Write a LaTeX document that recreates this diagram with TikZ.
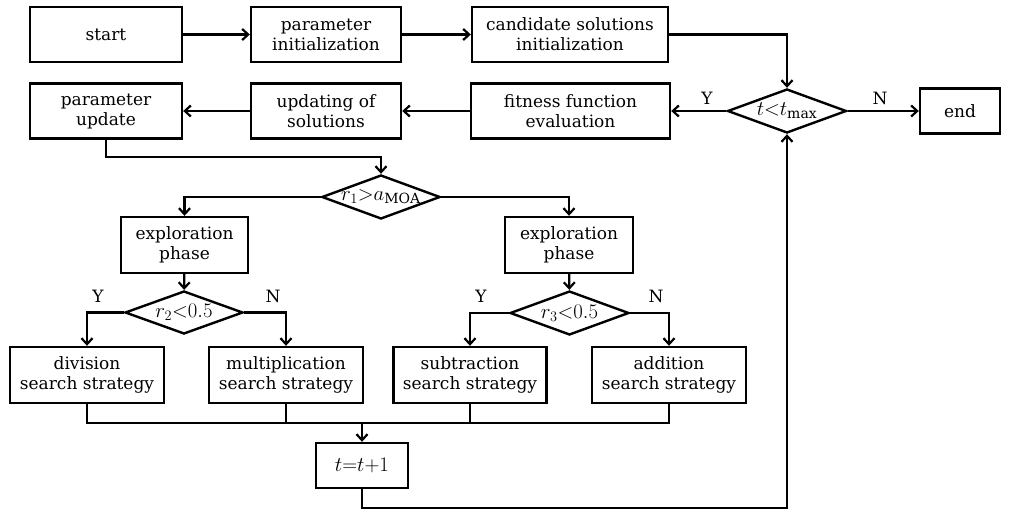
\documentclass[tikz,border=0pt]{standalone}
\usepackage{amsmath,amssymb}
\usepackage{fontspec}
\setmainfont{DejaVu Serif}
\usepackage{xcolor}
\usepackage{tikz}
\usetikzlibrary{shapes,arrows.meta,calc}
\tikzset{
  flowbox/.style={
    draw,
    line width=2.4pt,
    shape=rectangle,
    align=center,
    inner sep=0pt,
    minimum height=55pt
  },
  decide/.style={
    draw,
    line width=2.4pt,
    shape=diamond,
    aspect=2.7,
    inner sep=0pt,
    minimum width=119pt,
    minimum height=44pt,
    font=\fontsize{20}{20}\selectfont
  },
  flow/.style={
    line width=2.2pt,
    -{Straight Barb[length=6pt,width=11pt,line width=2.2pt]}
  },
  joint/.style={
    line width=2.2pt
  },
  every picture/.style = {
    font=\fontsize{17}{20}\selectfont
  }
}

\begin{document}
\begin{tikzpicture}[x=1pt,y=-1pt]
        \useasboundingbox (0,0) rectangle (1011,511);
        \node[flowbox, minimum width=152pt] (start) at (106,34.5) {start};
        \node[flowbox, minimum width=150pt] (parinit) at (326,34.5) {parameter\\initialization};
        \node[flowbox, minimum width=196pt] (cand) at (570,34.5) {candidate solutions\\initialization};
        \node[decide] (tmax) at (787,111) {$t{<}t_{\text{max}}$};
        \node[flowbox, minimum width=80pt, minimum height=45pt] (end) at (960,111) {end};
        \node[flowbox, minimum width=199pt] (fit) at (570.5,111) {fitness function\\evaluation};
        \node[flowbox, minimum width=150pt] (upd) at (326,111) {updating of\\solutions};
        \node[flowbox, minimum width=152pt] (parupd) at (106,111) {parameter\\update};
        \node[decide, minimum width=118pt] (r1) at (381,197) {$r_1{>}a_{\text{MOA}}$};
        \node[flowbox, minimum width=127pt, minimum height=56pt] (explL) at (184.5,245) {exploration\\phase};
        \node[flowbox, minimum width=128pt, minimum height=56pt] (explR) at (569,245) {exploration\\phase};
        \node[decide, minimum width=118pt, minimum height=43pt] (r2) at (184,312.5) {$r_2{<}0.5$};
        \node[decide] (r3) at (569.5,313) {$r_3{<}0.5$};
        \node[flowbox, minimum width=154pt, minimum height=56pt] (div) at (87,375) {division\\search strategy};
        \node[flowbox, minimum width=154pt, minimum height=56pt] (mul) at (286,375) {multiplication\\search strategy};
        \node[flowbox, minimum width=153pt, minimum height=56pt] (sub) at (470,375) {subtraction\\search strategy};
        \node[flowbox, minimum width=154pt, minimum height=56pt] (add) at (669,375) {addition\\search strategy};
        \node[flowbox, minimum width=92pt, minimum height=45pt, font=\fontsize{20}{20}\selectfont] (inc) at (362,465.5) {$t{=}t{+}1$};
        \coordinate (m1) at (381,157);
        \coordinate (j) at (362,423);
        \coordinate (k) at (787,508);
        \node (ytmax) at (707,98) {Y};
        \node (ntmax) at (880,98) {N};
        \node (yr2) at (98,296) {Y};
        \node (nr2) at (273,296) {N};
        \node (yr3) at (481,296) {Y};
        \node (nr3) at (656,296) {N};
        \draw[flow] (start) -- (parinit);
        \draw[flow] (parinit) -- (cand);
        \draw[flow] (cand.east) -| (tmax.north);
        \draw[flow] (tmax.west) -- (fit.east);
        \draw[flow] (tmax.east) -- (end.west);
        \draw[flow] (fit) -- (upd);
        \draw[flow] (upd) -- (parupd);
        \draw[flow] (parupd.south) |- (m1) -- (r1.north);
        \draw[flow] (r1.west) -| (explL.north);
        \draw[flow] (r1.east) -| (explR.north);
        \draw[flow] (explL) -- (r2);
        \draw[flow] (explR) -- (r3);
        \draw[flow] (r2.west) -| (div.north);
        \draw[flow] (r2.east) -| (mul.north);
        \draw[flow] (r3.west) -| (sub.north);
        \draw[flow] (r3.east) -| (add.north);
        \draw[joint] (div.south) |- (j);
        \draw[joint] (mul.south) |- (j);
        \draw[joint] (sub.south) |- (j);
        \draw[joint] (add.south) |- (j);
        \draw[flow] (j) -- (inc.north);
        \draw[flow] (inc.south) |- (k) -- (tmax.south);
    \end{tikzpicture}
\end{document}
